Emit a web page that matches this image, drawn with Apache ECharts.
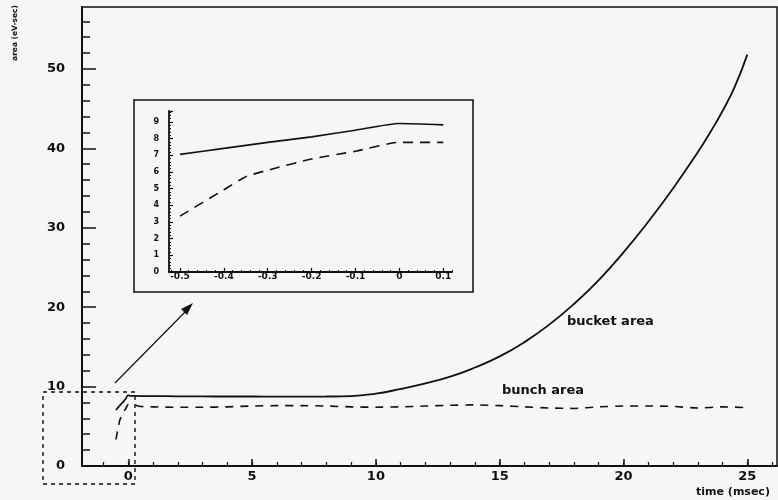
<!DOCTYPE html>
<html>
<head>
<meta charset="utf-8">
<script src="https://cdn.jsdelivr.net/npm/echarts@6/dist/echarts.min.js"></script>
<style>
  html, body { margin: 0; padding: 0; background: #f6f6f6; }
  #chart { width: 778px; height: 500px; }
</style>
</head>
<body>
<div id="chart"></div>
<script>
// Bucket area (eV-sec) versus time (msec)
const bucketTime = [-0.5, -0.4, -0.3, -0.2, -0.1, 0, 0.1, 1, 2, 3, 4, 5, 6, 7, 8, 9, 10, 11, 12, 13, 14, 15, 16, 17, 18, 19, 20, 21, 22, 23, 23.5, 24, 24.5, 25];
const bucketArea = [7.05, 7.41, 7.77, 8.1, 8.5, 8.9, 8.82, 8.8, 8.78, 8.76, 8.75, 8.75, 8.74, 8.74, 8.75, 8.8, 9.12, 9.7, 10.4, 11.25, 12.4, 13.8, 15.6, 17.8, 20.4, 23.4, 26.9, 30.75, 34.95, 39.5, 42.0, 44.7, 47.8, 51.8];

// Bunch area (eV-sec) versus time (msec)
const bunchTime = [-0.5, -0.4, -0.35, -0.3, -0.2, -0.1, 0, 0.1, 0.5, 1, 2, 3, 4, 5, 6, 7, 8, 9, 10, 11, 12, 13, 14, 15, 16, 17, 18, 19, 20, 21, 22, 23, 24, 25];
const bunchArea = [3.35, 4.93, 5.71, 6.1, 6.77, 7.24, 7.77, 7.77, 7.5, 7.45, 7.4, 7.4, 7.45, 7.55, 7.6, 7.6, 7.55, 7.45, 7.4, 7.45, 7.55, 7.65, 7.7, 7.6, 7.45, 7.3, 7.25, 7.45, 7.55, 7.55, 7.5, 7.3, 7.45, 7.35];

// Axis ticks
const mainXLabels = [0, 5, 10, 15, 20, 25];
const mainXMinor = [-1, 0, 1, 2, 3, 4, 5, 6, 7, 8, 9, 10, 11, 12, 13, 14, 15, 16, 17, 18, 19, 20, 21, 22, 23, 24, 25, 26];
const mainYLabels = [0, 10, 20, 30, 40, 50];
const mainYMinor = [0, 2, 4, 6, 8, 10, 12, 14, 16, 18, 20, 22, 24, 26, 28, 30, 32, 34, 36, 38, 40, 42, 44, 46, 48, 50, 52, 54, 56];
const insetXLabels = [-0.5, -0.4, -0.3, -0.2, -0.1, 0, 0.1];
const insetYLabels = [0, 1, 2, 3, 4, 5, 6, 7, 8, 9];

const INSET_TMAX = 0.1;
const zipPts = (xs, ys, keep) => xs.map((x, i) => [x, ys[i]]).filter(p => keep(p[0]));

const FONT = '"DejaVu Sans", Verdana, sans-serif';
const INK = '#111';

const insetXMinor = [];
for (let k = -26; k <= 6; k++) insetXMinor.push(+(k * 0.02).toFixed(2));

const chart = echarts.init(document.getElementById('chart'), null, { renderer: 'canvas' });

const option = {
  backgroundColor: '#f6f6f6',
  animation: false,
  grid: [
    { left: 82, top: 7, width: 695, height: 459, show: true, borderColor: INK, borderWidth: 1.5, backgroundColor: 'transparent' },
    { left: 169, top: 111, width: 283, height: 161 }
  ],
  xAxis: [
    {
      type: 'value', gridIndex: 0, min: -1.87, max: 26.2, position: 'bottom',
      axisLine: { onZero: false, lineStyle: { color: INK, width: 2 } },
      axisTick: { inside: true, length: 7, customValues: mainXLabels, lineStyle: { color: INK, width: 1.5 } },
      axisLabel: { customValues: mainXLabels, margin: 4, fontFamily: FONT, fontWeight: 'bold', fontSize: 13, color: INK },
      splitLine: { show: false }
    },
    {
      type: 'value', gridIndex: 0, min: -1.87, max: 26.2, position: 'bottom',
      axisLine: { show: false, onZero: false },
      axisTick: { inside: true, length: 4, customValues: mainXMinor, lineStyle: { color: INK, width: 1.2 } },
      axisLabel: { show: false },
      splitLine: { show: false }
    },
    {
      type: 'value', gridIndex: 1, min: -0.525, max: 0.12, position: 'bottom',
      axisLine: { onZero: false, lineStyle: { color: INK, width: 1.8 } },
      axisTick: { inside: true, length: 4, customValues: insetXLabels, lineStyle: { color: INK, width: 1.2 } },
      axisLabel: {
        customValues: insetXLabels, margin: 0, fontFamily: FONT, fontWeight: 'bold', fontSize: 9, color: INK,
        formatter: v => (Math.abs(v) < 1e-9 ? '0' : v.toFixed(1))
      },
      splitLine: { show: false }
    },
    {
      type: 'value', gridIndex: 1, min: -0.525, max: 0.12, position: 'bottom',
      axisLine: { show: false, onZero: false },
      axisTick: { inside: true, length: 2, customValues: insetXMinor, lineStyle: { color: INK, width: 1 } },
      axisLabel: { show: false },
      splitLine: { show: false }
    }
  ],
  yAxis: [
    {
      type: 'value', gridIndex: 0, min: 0, max: 57.8, position: 'left',
      axisLine: { onZero: false, lineStyle: { color: INK, width: 2 } },
      axisTick: { inside: true, length: 14, customValues: mainYLabels, lineStyle: { color: INK, width: 1.5 } },
      axisLabel: { customValues: mainYLabels, margin: 17, fontFamily: FONT, fontWeight: 'bold', fontSize: 13, color: INK },
      splitLine: { show: false }
    },
    {
      type: 'value', gridIndex: 0, min: 0, max: 57.8, position: 'left',
      axisLine: { show: false, onZero: false },
      axisTick: { inside: true, length: 8, customValues: mainYMinor, lineStyle: { color: INK, width: 1.5 } },
      axisLabel: { show: false },
      splitLine: { show: false }
    },
    {
      type: 'value', gridIndex: 1, min: 0, max: 9.65, interval: 1, position: 'left',
      axisLine: { onZero: false, lineStyle: { color: INK, width: 1.8 } },
      axisTick: { inside: true, length: 4, lineStyle: { color: INK, width: 1.2 } },
      minorTick: { show: true, splitNumber: 5, length: 2, lineStyle: { color: INK, width: 1 } },
      axisLabel: {
        customValues: insetYLabels, margin: 10, fontFamily: FONT, fontWeight: 'bold', fontSize: 8, color: INK
      },
      splitLine: { show: false }
    }
  ],
  series: [
    {
      name: 'bucket area', type: 'line', xAxisIndex: 0, yAxisIndex: 0,
      data: zipPts(bucketTime, bucketArea, () => true),
      smooth: 0.5, showSymbol: false,
      lineStyle: { color: INK, width: 1.8 }
    },
    {
      name: 'bunch area', type: 'line', xAxisIndex: 0, yAxisIndex: 0,
      data: zipPts(bunchTime, bunchArea, () => true),
      smooth: 0.2, showSymbol: false,
      lineStyle: { color: INK, width: 1.6, type: [8, 7] }
    },
    {
      name: 'bucket area (detail)', type: 'line', xAxisIndex: 2, yAxisIndex: 2,
      data: zipPts(bucketTime, bucketArea, t => t <= INSET_TMAX + 1e-9),
      smooth: 0.2, showSymbol: false,
      lineStyle: { color: INK, width: 1.6 }
    },
    {
      name: 'bunch area (detail)', type: 'line', xAxisIndex: 2, yAxisIndex: 2,
      data: zipPts(bunchTime, bunchArea, t => t <= INSET_TMAX + 1e-9),
      smooth: 0.2, showSymbol: false,
      lineStyle: { color: INK, width: 1.6, type: [10, 7] }
    }
  ],
  graphic: [
    // frame round the enlarged view
    { type: 'rect', shape: { x: 134, y: 100, width: 339, height: 192 }, style: { fill: null, stroke: INK, lineWidth: 1.5 }, z: 10 },
    // dashed box marking the enlarged region
    {
      type: 'polyline', shape: { points: [[43, 392], [135, 392], [135, 484], [43, 484], [43, 392]] },
      style: { fill: null, stroke: INK, lineWidth: 1.4, lineDash: [4, 4] }, z: 10
    },
    // arrow from the dashed box to the enlarged view
    { type: 'line', shape: { x1: 115, y1: 383, x2: 188, y2: 309 }, style: { stroke: INK, lineWidth: 1.2 }, z: 10 },
    { type: 'polygon', shape: { points: [[193, 303], [181, 309], [187, 315]] }, style: { fill: INK }, z: 10 },
    // curve labels
    { type: 'text', x: 567, y: 322, style: { text: 'bucket area', font: 'bold 13px ' + FONT, fill: INK, textVerticalAlign: 'middle' }, z: 10 },
    { type: 'text', x: 502, y: 391, style: { text: 'bunch area', font: 'bold 13px ' + FONT, fill: INK, textVerticalAlign: 'middle' }, z: 10 },
    // axis titles
    { type: 'text', x: 733, y: 492, style: { text: 'time (msec)', font: 'bold 11px ' + FONT, fill: INK, textAlign: 'center', textVerticalAlign: 'middle' }, z: 10 },
    { type: 'text', x: 15, y: 33, rotation: Math.PI / 2, style: { text: 'area (eV-sec)', font: 'bold 7.5px ' + FONT, fill: INK, textAlign: 'center', textVerticalAlign: 'middle' }, z: 10 }
  ]
};

chart.setOption(option);
</script>
</body>
</html>
